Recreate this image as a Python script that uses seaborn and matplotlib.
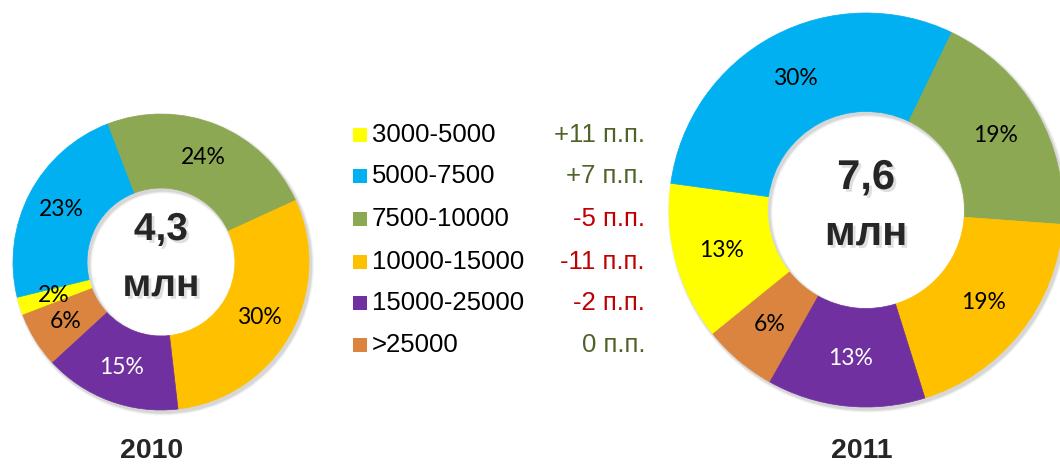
import matplotlib
matplotlib.use("Agg")
import matplotlib.pyplot as plt
import matplotlib.patheffects as pe
from matplotlib.patches import Wedge
import seaborn as sns

# data
categories = ["3000-5000", "5000-7500", "7500-10000", "10000-15000", "15000-25000", ">25000"]
share_2010 = [2, 23, 24, 30, 15, 6]
share_2011 = [13, 30, 19, 19, 13, 6]
change_pp = ["+11 п.п.", "+7 п.п.", "-5 п.п.", "-11 п.п.", "-2 п.п.", "0 п.п."]
totals = ["4,3", "7,6"]
years = ["2010", "2011"]

colors = sns.color_palette(["#FFFF00", "#00B0F0", "#8DA852", "#FFC000", "#7030A0", "#DA843F"])
pos_color = "#4F6228"
neg_color = "#C00000"

sns.set_theme(style="white")
plt.rcParams["font.family"] = ["Liberation Sans", "DejaVu Sans"]

W, H = 1060, 467
fig = plt.figure(figsize=(W / 100, H / 100), dpi=100)
ax = fig.add_axes([0, 0, 1, 1])


def Y(y):
    # image row -> axis y
    return H - y


def donut(values, cx, cy, r, start, total, total_sizes, year, year_xy):
    # soft shadow under the ring
    for k, a in [(5, 0.04), (3.5, 0.05), (2, 0.07)]:
        ax.add_patch(Wedge((cx + 2, Y(cy) - 2.5), r + k * 0.6, 0, 360,
                           width=0.5 * r + k * 1.2, color="black", alpha=a,
                           lw=0, zorder=0))
    wedges, _, pct = ax.pie(values, colors=colors, radius=r, center=(cx, Y(cy)),
                            startangle=start, counterclock=False,
                            wedgeprops=dict(width=0.5 * r, linewidth=0.5),
                            autopct="%.0f%%", pctdistance=0.76, frame=True,
                            textprops=dict(fontsize=16.5, family=["Lato", "DejaVu Sans"]))
    for w in wedges:
        w.set_zorder(2)
        w.set_edgecolor(w.get_facecolor())
    for i, t in enumerate(pct):
        t.set_zorder(3)
        t.set_color("white" if i == 4 else "black")
    shadow = [pe.SimplePatchShadow(offset=(2, -2), shadow_rgbFace="gray", alpha=0.25),
              pe.Normal()]
    ax.text(cx, Y(cy - 32), total, ha="center", va="center", fontsize=total_sizes[0],
            fontweight="bold", path_effects=shadow, zorder=4)
    ax.text(cx, Y(cy + 24), "млн", ha="center", va="center", fontsize=total_sizes[1],
            fontweight="bold", path_effects=shadow, zorder=4)
    ax.text(year_xy[0], Y(year_xy[1]), year, ha="center", va="center",
            fontsize=20.5, fontweight="bold")


donut(share_2010, 161, 262, 148, -159, totals[0], (28, 28), years[0], (152, 451))
donut(share_2011, 866, 210, 197, -141, totals[1], (30, 30), years[1], (862, 451))

# legend with change column
rows = [135, 176, 219, 262, 303, 345]
ax.scatter([360] * len(rows), [Y(y) for y in rows], marker="s", s=90,
           c=colors, linewidths=0, zorder=3)
for y, lab, ch in zip(rows, categories, change_pp):
    ax.text(372, Y(y), lab, ha="left", va="center", fontsize=18.5, color="black")
    col = neg_color if ch.startswith("-") else pos_color
    ax.text(645, Y(y), ch, ha="right", va="center", fontsize=18.5, color=col)

ax.set_xlim(0, W)
ax.set_ylim(0, H)
ax.set_aspect("auto")
ax.axis("off")

fig.savefig("out.png", dpi=100, facecolor="white")
